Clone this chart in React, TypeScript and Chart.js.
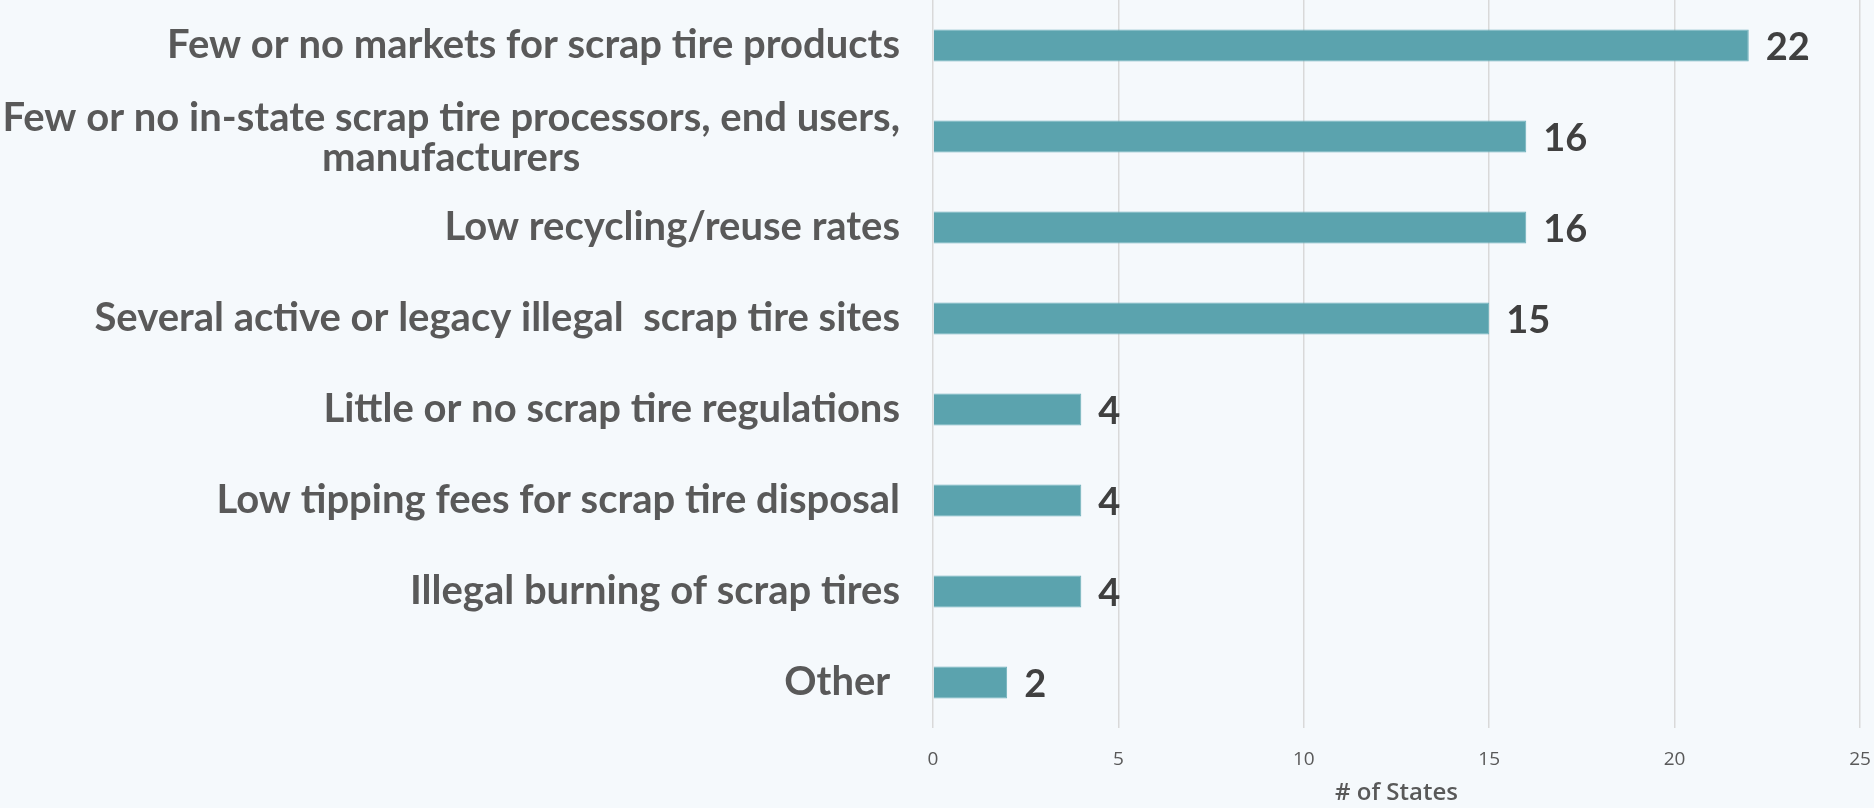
import React, { useEffect, useRef } from "react";
import { Chart, registerables } from "chart.js";

Chart.register(...registerables);

const categories: string[][] = [
  ["Few or no markets for scrap tire products"],
  ["Few or no in-state scrap tire processors, end users,", "manufacturers"],
  ["Low recycling/reuse rates"],
  ["Several active or legacy illegal  scrap tire sites"],
  ["Little or no scrap tire regulations"],
  ["Low tipping fees for scrap tire disposal"],
  ["Illegal burning of scrap tires"],
  ["Other "],
];
const values: number[] = [22, 16, 16, 15, 4, 4, 4, 2];
const xTicks: number[] = [0, 5, 10, 15, 20, 25];
const xTitle = "# of States";

const BG = "#f5f9fc";
const LABEL_FONT = "700 40px Lato";
const VALUE_FONT = "700 38px Lato";

const bgPlugin = {
  id: "bg",
  beforeDraw(chart: any) {
    const ctx = chart.ctx;
    ctx.save();
    ctx.fillStyle = BG;
    ctx.fillRect(0, 0, chart.width, chart.height);
    ctx.restore();
  },
};

const labelsPlugin = {
  id: "labels",
  afterDatasetsDraw(chart: any) {
    const ctx = chart.ctx;
    const y = chart.scales.y;
    const x = chart.scales.x;
    const area = chart.chartArea;
    ctx.save();
    ctx.font = LABEL_FONT;
    ctx.fillStyle = "#595959";
    ctx.textBaseline = "middle";
    ctx.textAlign = "center";
    const lineH = 40;
    categories.forEach((lines, i) => {
      const cy = y.getPixelForValue(i) + (lines.length > 1 ? 2 : 0);
      const maxW = Math.max(...lines.map((l) => ctx.measureText(l).width));
      const cx = area.left - 33 - maxW / 2;
      const start = cy - ((lines.length - 1) * lineH) / 2;
      lines.forEach((l, j) => ctx.fillText(l, cx, start + j * lineH));
    });
    ctx.font = VALUE_FONT;
    ctx.fillStyle = "#404040";
    ctx.textAlign = "left";
    values.forEach((v, i) => {
      ctx.fillText(String(v), x.getPixelForValue(v) + 17, y.getPixelForValue(i) + 2);
    });
    ctx.restore();
  },
};

export default function App() {
  const ref = useRef<HTMLCanvasElement | null>(null);
  useEffect(() => {
    document.body.style.margin = "0";
    document.body.style.background = BG;
    const chart = new Chart(ref.current!, {
      type: "bar",
      data: {
        labels: categories.map((c) => c.join(" ")),
        datasets: [
          {
            data: values,
            backgroundColor: "#5ba3ae",
            borderColor: "#6fb1bb",
            borderWidth: 1,
            categoryPercentage: 1,
            barPercentage: 0.35,
          },
        ],
      },
      options: {
        indexAxis: "y",
        animation: false,
        responsive: false,
        maintainAspectRatio: false,
        layout: { padding: { left: 0, right: 14, top: 0, bottom: 0 } },
        plugins: { legend: { display: false }, tooltip: { enabled: false } },
        scales: {
          y: {
            grid: { display: false },
            border: { display: false },
            ticks: { display: false },
            afterFit: (s: any) => {
              s.width = 933;
            },
          },
          x: {
            min: 0,
            max: 25,
            afterBuildTicks: (s: any) => {
              s.ticks = xTicks.map((v) => ({ value: v }));
            },
            grid: { color: "#d9d9d9", lineWidth: 1.5, drawTicks: false },
            border: { display: false },
            ticks: {
              color: "#595959",
              font: { family: "Open Sans", size: 19 },
              padding: 20,
              maxRotation: 0,
            },
            title: {
              display: true,
              text: xTitle,
              color: "#595959",
              font: { family: "Open Sans", size: 24, weight: "600" },
              padding: { top: 0, bottom: 0 },
            },
            afterFit: (s: any) => {
              s.height = 80;
              s.paddingLeft = 0;
              s.paddingRight = 0;
            },
          },
        },
      },
      plugins: [bgPlugin, labelsPlugin],
    });
    return () => chart.destroy();
  }, []);
  return <canvas ref={ref} width={1874} height={808} style={{ display: "block" }} />;
}
